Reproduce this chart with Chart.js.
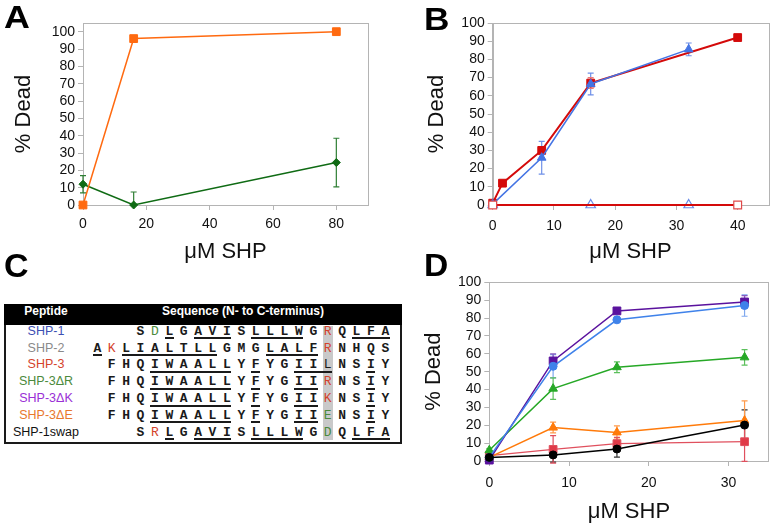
<!DOCTYPE html>
<html><head><meta charset="utf-8">
<script src="https://cdn.jsdelivr.net/npm/chart.js@4/dist/chart.umd.min.js"></script>
<style>
body{margin:0;width:775px;height:525px;background:#fff;position:relative;overflow:hidden;font-family:'Liberation Sans',Arial,sans-serif;}
canvas{position:absolute;}
.lbl{position:absolute;font-weight:bold;font-size:32px;line-height:32px;color:#000;}
.abs{position:absolute;}
</style></head><body>
<canvas id="cA" width="390" height="265" style="left:0;top:0"></canvas>
<canvas id="cB" width="385" height="265" style="left:390px;top:0"></canvas>
<canvas id="cD" width="385" height="263" style="left:390px;top:262px"></canvas>
<div class="lbl" style="left:4px;top:1px;transform:scaleX(1.12);transform-origin:left">A</div>
<div class="lbl" style="left:424px;top:3px;transform:scaleX(1.1);transform-origin:left">B</div>
<div class="lbl" style="left:4px;top:249px;font-size:34px">C</div>
<div class="lbl" style="left:424px;top:249px;transform:scaleX(1.05);transform-origin:left">D</div>
<script>
// ---------- Panel A ----------
const aX = [0, 16, 80];
const aOrange = [0, 96, 100];
const aGreen = [12, 0, 24.5];
const aGreenErr = [5, 7.5, 14];
const aXTicks = [0, 20, 40, 60, 80];

// ---------- Panel B ----------
const bRedX = [0, 1.6, 8, 16, 40];
const bRed = [1, 12, 30, 67, 92];
const bRedErr = [0, 0, 2, 3, 0];
const bBlueX = [0, 8, 16, 32];
const bBlue = [0.5, 26, 66.5, 85.5];
const bBlueErr = [0, 9, 6, 3.5];
const bRedCtlX = [0, 40];
const bRedCtl = [0, 0];
const bBlueCtlX = [0, 16, 32];
const bBlueCtl = [0, 0, 0];
const bXTicks = [0, 10, 20, 30, 40];

// ---------- Panel D ----------
const dX = [0, 8, 16, 32];
const dPurple = [0.5, 56, 84, 89];
const dPurpleErr = [0, 4, 1, 3.5];
const dBlue = [2, 53, 79, 87];
const dBlueErr = [0, 6.5, 1.5, 6];
const dGreen = [6, 40.5, 52.5, 58];
const dGreenErr = [1, 6, 3, 4.3];
const dOrange = [2, 18.7, 16, 22.6];
const dOrangeErr = [0, 3, 3.7, 11];
const dRed = [3, 6.5, 9.7, 10.8];
const dRedErr = [0, 7.7, 3.5, 11];
const dBlack = [2, 3.4, 6.7, 20.1];
const dBlackErr = [0, 4, 4.5, 8.5];
const dXTicks = [0, 10, 20, 30];
const yTicks = [0, 10, 20, 30, 40, 50, 60, 70, 80, 90, 100];

// ---------- Panel C ----------
const peptideNames = ['SHP-1', 'SHP-2', 'SHP-3', 'SHP-3\u0394R', 'SHP-3\u0394K', 'SHP-3\u0394E', 'SHP-1swap'];
const peptideSeqs = [
  '   SDLGAVISLLLWGRQLFA',
  'AKLIALTLLGMGLALFRNHQS',
  ' FHQIWAALLYFYGIILNSIY',
  ' FHQIWAALLYFYGIIRNSIY',
  ' FHQIWAALLYFYGIIKNSIY',
  ' FHQIWAALLYFYGIIENSIY',
  '   SRLGAVISLLLWGDQLFA'
];
const peptideUnderline = [
  '     _ ___ ____   ___',
  '_ _______   ____     ',
  '    ______ _  ___  _ ',
  '    ______ _  __   _ ',
  '    ______ _  __   _ ',
  '    ______ _  __   _ ',
  '     _ ___ ____   ___'
];
const highlightColumn = 16;
const tableHeaders = ['Peptide', 'Sequence (N- to C-terminus)'];

// ---------- styles ----------
const nameColors = ['#3d4fb3', '#8a8a8a', '#d4432c', '#4b8a3c', '#9a30d6', '#e8782e', '#111111'];
const chargeColors = {R: '#d4432c', K: '#d4432c', D: '#4b8a3c', E: '#4b8a3c'};
const FONT = "'Liberation Sans', Arial, sans-serif";
const AXIS_GRAY = '#b4b4b4';

const pts = (xs, ys) => xs.map((x, i) => ({x: x, y: ys[i]}));

const errorBars = {
  id: 'errorBars',
  beforeDatasetsDraw(chart) {
    const ctx = chart.ctx, area = chart.chartArea;
    const xs = chart.scales.x, ys = chart.scales.y;
    ctx.save();
    ctx.beginPath();
    ctx.rect(area.left - 10, area.top - 10, area.right - area.left + 20, area.bottom - area.top + 13);
    ctx.clip();
    chart.data.datasets.forEach(ds => {
      if (!ds.errors) return;
      ctx.strokeStyle = ds.errorColor || ds.borderColor;
      ctx.lineWidth = 1.2;
      ds.data.forEach((p, i) => {
        const e = ds.errors[i];
        if (!e) return;
        const px = xs.getPixelForValue(p.x);
        const y1 = ys.getPixelForValue(p.y + e), y2 = ys.getPixelForValue(p.y - e);
        ctx.beginPath();
        ctx.moveTo(px, y1); ctx.lineTo(px, y2);
        ctx.moveTo(px - 3, y1); ctx.lineTo(px + 3, y1);
        ctx.moveTo(px - 3, y2); ctx.lineTo(px + 3, y2);
        ctx.stroke();
      });
    });
    ctx.restore();
  }
};
const frame = {
  id: 'frame',
  beforeDatasetsDraw(chart) {
    const a = chart.chartArea, ctx = chart.ctx;
    ctx.save();
    ctx.strokeStyle = AXIS_GRAY;
    ctx.lineWidth = 1;
    ctx.strokeRect(Math.round(a.left) + 0.5, Math.round(a.top) + 0.5, Math.round(a.right - a.left), Math.round(a.bottom - a.top));
    ctx.restore();
  }
};

function scales(o) {
  return {
    x: {
      type: 'linear', min: 0, max: o.xMax,
      afterBuildTicks: s => { s.ticks = o.xTicks.map(v => ({value: v})); },
      afterFit: s => { s.height = o.xH; },
      grid: {display: true, drawOnChartArea: false, drawTicks: true, tickLength: 5, color: AXIS_GRAY},
      border: {display: true, color: AXIS_GRAY},
      ticks: {font: {family: FONT, size: 14}, color: '#111', padding: o.xPad, maxRotation: 0, autoSkip: false},
      title: {display: true, text: '\u03bcM SHP', font: {family: FONT, size: 22}, color: '#111', padding: {top: 0, bottom: o.tPadB}}
    },
    y: {
      type: 'linear', min: 0, max: o.yMax,
      afterBuildTicks: s => { s.ticks = yTicks.map(v => ({value: v})); },
      afterFit: s => { s.width = o.yW; },
      grid: {display: true, drawOnChartArea: false, drawTicks: true, tickLength: 5, color: AXIS_GRAY},
      border: {display: true, color: AXIS_GRAY},
      ticks: {font: {family: FONT, size: 14}, color: '#111', padding: 3, autoSkip: false},
      title: {display: true, text: '% Dead', font: {family: FONT, size: 22}, color: '#111', padding: {top: o.yTitlePad, bottom: 0}}
    }
  };
}
function baseOpts(pad, sc) {
  return {
    responsive: false, animation: false, devicePixelRatio: 1,
    layout: {padding: pad},
    plugins: {legend: {display: false}, tooltip: {enabled: false}},
    scales: sc
  };
}
function ds(o) {
  return Object.assign({showLine: true, borderWidth: 1.5, pointBorderWidth: 1, pointHoverRadius: 0, clip: false}, o);
}

new Chart(document.getElementById('cA'), {
  type: 'scatter',
  data: {datasets: [
    ds({data: pts(aX, aOrange), borderColor: '#ff6a10', backgroundColor: '#ff6a10', pointStyle: 'rect', pointRadius: 5.5}),
    ds({data: pts(aX, aGreen), borderColor: '#0f6b14', backgroundColor: '#0f6b14', pointStyle: 'rectRot', pointRadius: 4, errors: aGreenErr, errorColor: '#2f7f34'})
  ]},
  options: baseOpts({left: 0, top: 23, right: 22, bottom: 0},
    scales({xMax: 90, xTicks: aXTicks, xH: 60, xPad: 6, tPadB: 0, yMax: 105, yW: 83, yTitlePad: 11})),
  plugins: [frame, errorBars]
});

new Chart(document.getElementById('cB'), {
  type: 'scatter',
  data: {datasets: [
    ds({data: pts(bRedCtlX, bRedCtl), borderColor: '#d40a0a', backgroundColor: '#ffffff', pointBorderColor: '#e04a4a', pointStyle: 'rect', pointRadius: 5.5, pointBorderWidth: 1.2, borderWidth: 2}),
    ds({data: pts(bBlueX, bBlue), borderColor: '#4474e4', backgroundColor: '#4474e4', pointStyle: 'triangle', pointRadius: 5, errors: bBlueErr, errorColor: '#6f90e8'}),
    ds({data: pts(bRedX, bRed), borderColor: '#d40a0a', backgroundColor: '#d40a0a', pointStyle: 'rect', pointRadius: 5.5, borderWidth: 2, errors: bRedErr, errorColor: '#e87a7a'}),
    ds({data: pts(bBlueCtlX, bBlueCtl), borderColor: '#4474e4', backgroundColor: '#ffffff', pointBorderColor: '#6a8ce8', pointStyle: 'triangle', pointRadius: 5.5, pointBorderWidth: 1.2, borderWidth: 2})
  ]},
  options: baseOpts({left: 0, top: 23, right: 4, bottom: 0},
    scales({xMax: 45, xTicks: bXTicks, xH: 60, xPad: 8, tPadB: 0, yMax: 100, yW: 102.7, yTitlePad: 34})),
  plugins: [frame, errorBars]
});

new Chart(document.getElementById('cD'), {
  type: 'scatter',
  data: {datasets: [
    ds({data: pts(dX, dBlack), borderColor: '#000000', backgroundColor: '#000000', pointStyle: 'circle', pointRadius: 4, errors: dBlackErr, errorColor: '#333333'}),
    ds({data: pts(dX, dBlue), borderColor: '#3f82ea', backgroundColor: '#3f82ea', pointStyle: 'circle', pointRadius: 4, errors: dBlueErr, errorColor: '#7fa8ee'}),
    ds({data: pts(dX, dPurple), borderColor: '#5a129e', backgroundColor: '#5a129e', pointStyle: 'rect', pointRadius: 5.5, errors: dPurpleErr, errorColor: '#8a5cc0'}),
    ds({data: pts(dX, dGreen), borderColor: '#26a826', backgroundColor: '#26a826', pointStyle: 'triangle', pointRadius: 5, errors: dGreenErr, errorColor: '#5cc05c'}),
    ds({data: pts(dX, dOrange), borderColor: '#ff7a0a', backgroundColor: '#ff7a0a', pointStyle: 'triangle', pointRadius: 5, errors: dOrangeErr, errorColor: '#ff9a4a'}),
    ds({data: pts(dX, dRed), borderColor: '#e0505e', backgroundColor: '#e03a48', pointStyle: 'rect', pointRadius: 5.5, borderWidth: 1.2, errors: dRedErr, errorColor: '#e0505e'})
  ]},
  options: baseOpts({left: 0, top: 20.3, right: 4, bottom: 0},
    scales({xMax: 35, xTicks: dXTicks, xH: 64, xPad: 9, tPadB: 0, yMax: 100, yW: 99.3, yTitlePad: 31})),
  plugins: [frame, errorBars]
});

// ---------- Panel C table ----------
(function () {
  const body = document.body;
  const L = 4, T = 304, W = 398, H = 140;
  const add = (css, html) => { const d = document.createElement('div'); d.className = 'abs'; d.style.cssText = css; if (html !== undefined) d.textContent = html; body.appendChild(d); return d; };
  add(`left:${L}px;top:${T}px;width:${W}px;height:${H}px;border:2px solid #1a1a1a;box-sizing:border-box;background:#fff;`);
  add(`left:${L}px;top:${T}px;width:${W}px;height:21px;background:#000;`);
  add(`left:5px;top:${T}px;width:82px;height:21px;line-height:22px;text-align:center;color:#fff;font:bold 12px ${FONT};`, tableHeaders[0]);
  add(`left:143px;top:${T}px;width:200px;height:21px;line-height:22px;text-align:center;color:#fff;font:bold 12px ${FONT};`, tableHeaders[1]);
  const col0 = 97.3, colW = 14.4, row0 = 331.7, rowH = 16.83;
  add(`left:${col0 + highlightColumn * colW - 4.8}px;top:326px;width:10px;height:114px;background:#c9c9c9;`);
  peptideNames.forEach((nm, r) => {
    const cy = row0 + r * rowH;
    add(`left:5px;top:${cy - 8}px;width:82px;height:16px;line-height:16px;text-align:center;font:12.5px ${FONT};color:${nameColors[r]};`, nm);
    const seq = peptideSeqs[r];
    for (let c = 0; c < seq.length; c++) {
      const ch = seq[c];
      if (ch === ' ') continue;
      const cx = col0 + c * colW;
      const color = chargeColors[ch] || '#1a1a1a';
      const weight = (chargeColors[ch] || c === highlightColumn) ? 'normal' : 'bold';
      add(`left:${cx - 7}px;top:${cy - 8}px;width:14px;height:16px;line-height:16px;text-align:center;font:${weight} 13px 'Liberation Mono','Courier New',monospace;color:${color};`, ch);
    }
    const m = peptideUnderline[r];
    let c = 0;
    while (c < m.length) {
      if (m[c] === '_') {
        let e = c;
        while (e + 1 < m.length && m[e + 1] === '_') e++;
        const x1 = col0 + c * colW - 4.5, x2 = col0 + e * colW + 4.5;
        add(`left:${x1}px;top:${cy + 5.5}px;width:${x2 - x1}px;height:2px;background:#1a1a1a;`);
        c = e + 1;
      } else c++;
    }
  });
})();
</script>
</body></html>
